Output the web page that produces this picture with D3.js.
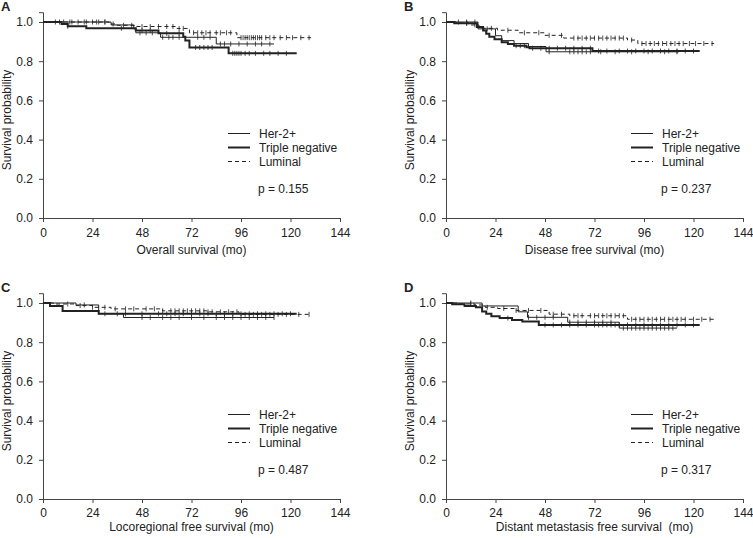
<!DOCTYPE html>
<html><head><meta charset="utf-8">
<script src="https://cdn.jsdelivr.net/npm/d3@7"></script>
<style>body{margin:0;background:#fff}svg{display:block}text{font-family:"Liberation Sans",Arial,sans-serif;fill:#222}</style>
</head><body>
<svg id="c" width="753" height="538"></svg>
<script>
// ---- data ----
const monthTicks = [0, 24, 48, 72, 96, 120, 144];
const probTicks = [0, 0.2, 0.4, 0.6, 0.8, 1.0];
const seriesNames = ["Her-2+", "Triple negative", "Luminal"];
const panelLetters = ["A", "B", "C", "D"];
const panelTitles = ["Overall survival (mo)", "Disease free survival (mo)", "Locoregional free survival (mo)", "Distant metastasis free survival  (mo)"];
const pValues = ["p = 0.155", "p = 0.237", "p = 0.487", "p = 0.317"];

// step points [month, survival]; last pair = end of follow-up
const A_her2 = [[0,1],[33,0.985],[44,0.965],[45,0.945],[57,0.922],[84,0.888],[112,0.888]];
const A_tn   = [[0,1],[9,0.99],[12,0.978],[21,0.968],[45,0.956],[56,0.942],[68,0.925],[69,0.905],[71,0.87],[90,0.84],[123,0.84]];
const A_lum  = [[0,1],[32,0.99],[36,0.983],[45,0.977],[65,0.967],[71,0.945],[94,0.92],[130,0.92]];
const B_her2 = [[0,1],[15.5,0.965],[24,0.93],[27,0.905],[33,0.89],[40,0.875],[48.5,0.848],[113,0.848]];
const B_tn   = [[0,1],[4,0.993],[15,0.975],[18,0.956],[19.5,0.94],[21,0.925],[23.5,0.912],[27,0.897],[30,0.888],[33,0.879],[39,0.871],[40.5,0.866],[71,0.852],[123,0.852]];
const B_lum  = [[0,1],[5,0.995],[11,0.985],[16,0.968],[25,0.958],[35,0.945],[48,0.932],[57,0.918],[88,0.908],[93,0.89],[130,0.89]];
const C_her2 = [[0,1],[16,0.99],[27,0.945],[39,0.926],[112,0.926]];
const C_tn   = [[0,1],[3.4,0.985],[9.5,0.959],[27,0.945],[123,0.945]];
const C_lum  = [[0,1],[5,0.995],[16,0.987],[24,0.978],[33,0.97],[58,0.96],[80,0.955],[95,0.942],[130,0.942]];
const D_her2 = [[0,1],[17.5,0.985],[35,0.955],[39.5,0.927],[59,0.902],[84,0.872],[112,0.872]];
const D_tn   = [[0,1],[3,0.993],[9,0.985],[14.5,0.978],[17.5,0.957],[19.5,0.945],[22,0.933],[26,0.923],[32,0.913],[37,0.905],[45,0.888],[123,0.888]];
const D_lum  = [[0,1],[6,0.995],[14,0.99],[19,0.978],[25,0.972],[34,0.962],[50,0.943],[60,0.935],[88,0.917],[130,0.917]];

// censored observation times
const A_her2_c = [6,10,14,20,26,30,47,50,53,58,61,63,66,75,78,81,86,88,91,95,99,103,106,110];
const A_tn_c   = [12,38,48,52,60,66,74,76,78,80,82,92,93,94,95,96,98,100,103,107,110,114,118];
const A_lum_c  = [8,13,17,21,24,27,30,34,39,43,48,52,56,60,63,66,68,73,75,77,79,81,84,86,89,91,96,97,98,99,100,101,102,103,104,105,106,108,110,112,115,118,121,125,129];
const B_her2_c = [6,10,14,20,50,60,62,64,66,68,70,75,82,90,98,106,112];
const B_tn_c   = [10,34,36,38,42,46,50,54,58,62,66,70,74,78,84,88,92,96,100,104,108,112,116,120];
const B_lum_c  = [10,14,22,30,38,45,50,56,62,64,66,68,70,72,74,76,78,80,82,84,86,90,95,97,99,101,103,105,107,109,111,113,115,118,121,125,129];
const C_her2_c = [20,36,48,52,58,62,66,72,78,84,88,92,96,100,104,108,112];
const C_tn_c   = [30,40,48,56,60,64,68,72,76,80,84,88,92,96,100,104,108,112,116,120];
const C_lum_c  = [12,18,24,30,35,40,44,50,54,58,62,64,66,68,70,72,74,76,78,80,82,86,90,94,98,102,106,110,114,118,124,129];
const D_her2_c = [12,40,44,48,52,60,64,68,72,76,80,86,88,90,92,94,96,98,100,102,104,106,108,110];
const D_tn_c   = [30,48,52,56,60,64,68,72,74,76,78,80,82,84,88,92,96,100,104,108,112,116,120];
const D_lum_c  = [12,20,28,34,40,46,52,56,62,64,66,70,72,74,76,78,80,82,84,86,90,92,94,96,98,100,102,104,106,108,110,112,114,116,120,124,128];

const panelSeries = [
  [[A_her2, A_her2_c], [A_tn, A_tn_c], [A_lum, A_lum_c]],
  [[B_her2, B_her2_c], [B_tn, B_tn_c], [B_lum, B_lum_c]],
  [[C_her2, C_her2_c], [C_tn, C_tn_c], [C_lum, C_lum_c]],
  [[D_her2, D_her2_c], [D_tn, D_tn_c], [D_lum, D_lum_c]]
];

// ---- layout / style ----
const layout = [
  {x0: 43,  top: 22,  titleY: 254, pad: 6},
  {x0: 446, top: 22,  titleY: 254, pad: 6},
  {x0: 43,  top: 303, titleY: 531, pad: 5},
  {x0: 446, top: 303, titleY: 531, pad: 5}
];
const W = 297, H = 196;
const styles = [
  {w: 1, dash: null},
  {w: 2, dash: null},
  {w: 1, dash: "4,3"}
];
const ink = "#222";

const svg = d3.select("#c");

function survAt(steps, t) {
  let s = steps[0][1];
  for (const p of steps) if (p[0] <= t) s = p[1];
  return s;
}

layout.forEach((L, i) => {
  const x = d3.scaleLinear().domain([0, 144]).range([L.x0, L.x0 + W]);
  const y = d3.scaleLinear().domain([0, 1.05]).range([L.top + H, L.top + H - H * 1.05]);
  const g = svg.append("g");

  const xa = g.append("g").attr("transform", `translate(0,${y(0)})`)
    .call(d3.axisBottom(x).tickValues(monthTicks).tickFormat(d3.format("d")).tickSize(4).tickPadding(L.pad));
  const ya = g.append("g").attr("transform", `translate(${x(0)},0)`)
    .call(d3.axisLeft(y).tickValues(probTicks).tickFormat(d3.format(".1f")).tickSize(4).tickPadding(6));
  [xa, ya].forEach(a => {
    a.selectAll("path,line").attr("stroke", "#444").attr("stroke-width", 1);
    a.selectAll("text").style("font-size", "12px").attr("fill", ink);
  });

  const line = d3.line().x(d => x(d[0])).y(d => y(d[1])).curve(d3.curveStepAfter);
  panelSeries[i].forEach((s, k) => {
    const [steps, cens] = s;
    g.append("path").datum(steps).attr("d", line)
      .attr("fill", "none").attr("stroke", ink)
      .attr("stroke-width", styles[k].w)
      .attr("stroke-dasharray", styles[k].dash);
    g.selectAll(null).data(cens).enter().append("line")
      .attr("x1", d => x(d)).attr("x2", d => x(d))
      .attr("y1", d => y(survAt(steps, d)) - 2.5).attr("y2", d => y(survAt(steps, d)) + 2.5)
      .attr("stroke", ink).attr("stroke-width", 0.8);
  });

  // legend
  const lg = g.append("g").attr("transform", `translate(${L.x0},${L.top})`);
  seriesNames.forEach((n, k) => {
    const ly = 111.5 + k * 14;
    lg.append("line").attr("x1", 185).attr("x2", 207).attr("y1", ly).attr("y2", ly)
      .attr("stroke", ink).attr("stroke-width", styles[k].w).attr("stroke-dasharray", styles[k].dash);
    lg.append("text").attr("x", 216).attr("y", ly + 4).style("font-size", "12px").text(n);
  });
  lg.append("text").attr("x", 215).attr("y", 171).style("font-size", "12px").text(pValues[i]);

  // titles
  g.append("text").attr("x", L.x0 + W / 2).attr("y", L.titleY).attr("text-anchor", "middle")
    .style("font-size", "12px").style("white-space", "pre").text(panelTitles[i]);
  g.append("text").attr("transform", `translate(${L.x0 - 32},${L.top + H / 2}) rotate(-90)`)
    .attr("text-anchor", "middle").style("font-size", "12px").text("Survival probability");
  g.append("text").attr("x", L.x0 - 42).attr("y", L.top - 11).style("font-size", "13px")
    .style("font-weight", "bold").text(panelLetters[i]);
});
</script>
</body></html>
